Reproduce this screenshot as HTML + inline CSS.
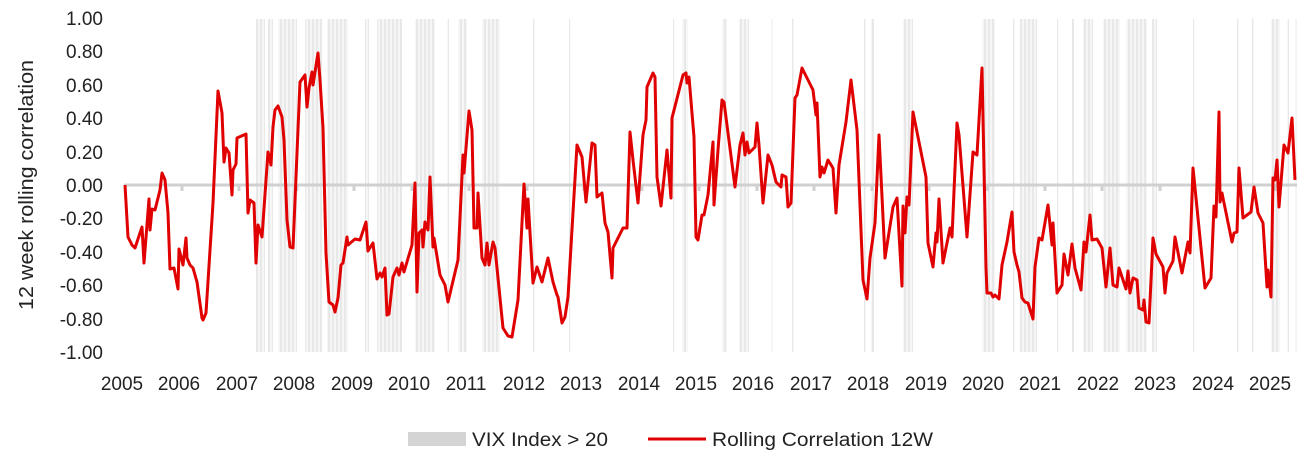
<!DOCTYPE html>
<html><head><meta charset="utf-8"><style>
body{margin:0;background:#fff;}
svg text{font-family:"Liberation Sans",sans-serif;fill:#222;}
</style></head><body>
<svg width="1316" height="465" viewBox="0 0 1316 465" xmlns="http://www.w3.org/2000/svg">
<defs><pattern id="st" width="4" height="10" patternUnits="userSpaceOnUse"><rect x="0" y="0" width="2" height="10" fill="#e8e8e8"/><rect x="2" y="0" width="2" height="10" fill="#f6f6f6"/></pattern></defs>
<g fill="url(#st)">
<rect x="256" y="19" width="9" height="333"/><rect x="268" y="19" width="5" height="333"/>
<rect x="278" y="19" width="19" height="333"/><rect x="305" y="19" width="17" height="333"/>
<rect x="327" y="19" width="21" height="333"/><rect x="365" y="19" width="4" height="333"/>
<rect x="377" y="19" width="25" height="333"/><rect x="415" y="19" width="20" height="333"/>
<rect x="447" y="19" width="2" height="333"/><rect x="458" y="19" width="9" height="333"/>
<rect x="482" y="19" width="18" height="333"/><rect x="533" y="19" width="2" height="333"/>
<rect x="569" y="19" width="1.5" height="333"/><rect x="673" y="19" width="1.5" height="333"/>
<rect x="682" y="19" width="6" height="333"/><rect x="722" y="19" width="5" height="333"/>
<rect x="739" y="19" width="10" height="333"/><rect x="771" y="19" width="1.5" height="333"/>
<rect x="792" y="19" width="1.5" height="333"/><rect x="864" y="19" width="1.5" height="333"/>
<rect x="871" y="19" width="3" height="333"/><rect x="903" y="19" width="10" height="333"/>
<rect x="982" y="19" width="13" height="333"/><rect x="1013" y="19" width="2" height="333"/>
<rect x="1020" y="19" width="17" height="333"/><rect x="1057" y="19" width="1.5" height="333"/>
<rect x="1072" y="19" width="2" height="333"/><rect x="1083" y="19" width="10" height="333"/>
<rect x="1103" y="19" width="17" height="333"/><rect x="1126" y="19" width="21" height="333"/>
<rect x="1152" y="19" width="5" height="333"/><rect x="1193" y="19" width="1.5" height="333"/>
<rect x="1237" y="19" width="2" height="333"/><rect x="1252" y="19" width="1.5" height="333"/>
<rect x="1271" y="19" width="9" height="333"/><rect x="1287" y="19" width="2" height="333"/>
<rect x="1295" y="19" width="1.5" height="333"/>
</g>
<line x1="124" y1="185" x2="1297" y2="185" stroke="#d0d0d0" stroke-width="3"/>
<g stroke="#d0d0d0" stroke-width="3">
<line x1="182" y1="185" x2="182" y2="191"/><line x1="239" y1="185" x2="239" y2="191"/><line x1="297" y1="185" x2="297" y2="191"/><line x1="354" y1="185" x2="354" y2="191"/><line x1="412" y1="185" x2="412" y2="191"/><line x1="469" y1="185" x2="469" y2="191"/><line x1="527" y1="185" x2="527" y2="191"/><line x1="584" y1="185" x2="584" y2="191"/><line x1="642" y1="185" x2="642" y2="191"/><line x1="699" y1="185" x2="699" y2="191"/><line x1="757" y1="185" x2="757" y2="191"/><line x1="814" y1="185" x2="814" y2="191"/><line x1="872" y1="185" x2="872" y2="191"/><line x1="929" y1="185" x2="929" y2="191"/><line x1="987" y1="185" x2="987" y2="191"/><line x1="1045" y1="185" x2="1045" y2="191"/><line x1="1102" y1="185" x2="1102" y2="191"/><line x1="1160" y1="185" x2="1160" y2="191"/><line x1="1217" y1="185" x2="1217" y2="191"/><line x1="1275" y1="185" x2="1275" y2="191"/>
</g>
<polyline fill="none" stroke="#e00000" stroke-width="3" stroke-linejoin="round" points="125,185 128,237 132,245 135,248 142,227 144,263 149,199 150,230 152,209 155,210 160,190 162,173 165,180 168,213 170,269 174,268 178,289 179,249 183,265 186,238 187,258 190,265 193,268 197,282 202,318 203,320 206,313 213,203 218,91 222,113 224,162 226,148 229,153 232,195 233,170 236,164 237,138 246,134 248,213 250,200 254,203 256,263 258,225 262,237 268,152 271,165 273,127 275,110 278,106 282,117 284,140 287,220 290,247 293,248 300,82 305,75 307,107 309,88 312,72 313,85 318,53 320,80 323,128 326,253 329,302 333,305 335,312 338,298 341,265 343,263 347,237 348,245 355,239 360,240 366,222 368,251 373,243 377,279 380,273 382,277 385,268 387,315 389,314 393,277 397,268 399,275 402,263 404,272 412,245 415,183 417,292 419,233 422,230 423,247 425,222 428,230 430,177 433,247 434,238 440,275 445,285 448,302 458,260 463,155 464,173 469,111 472,130 474,228 477,228 478,193 482,258 485,265 487,243 489,265 493,242 495,248 503,328 508,336 512,337 518,300 524,184 527,228 528,199 533,283 537,267 542,282 548,258 553,282 557,295 558,297 562,323 565,317 568,297 577,145 582,157 586,202 592,143 595,145 597,197 602,193 605,223 608,232 612,278 613,248 623,228 627,228 630,132 633,160 638,203 643,135 646,120 647,87 653,73 655,77 657,177 661,206 667,150 671,198 672,118 683,75 686,73 687,83 689,77 694,137 696,237 698,240 702,215 704,215 708,195 713,142 714,205 718,150 722,100 724,102 735,187 740,145 743,133 745,155 747,142 749,153 755,147 757,123 759,145 763,203 768,155 772,165 776,182 781,187 782,175 786,177 788,207 791,203 795,98 797,95 802,68 809,82 813,90 816,115 817,103 820,177 822,167 824,173 828,160 833,168 836,213 839,165 846,122 851,80 857,130 863,280 867,299 870,258 875,223 879,135 885,258 893,207 897,198 902,286 903,206 905,233 907,197 909,205 913,112 926,177 928,243 933,267 936,233 937,242 939,199 943,263 950,228 952,237 957,123 959,135 967,237 973,152 977,155 982,68 986,267 987,293 991,293 993,297 995,295 999,299 1002,265 1007,242 1012,212 1014,252 1017,265 1019,272 1022,298 1025,302 1028,303 1033,319 1035,267 1039,238 1042,240 1048,205 1052,245 1053,223 1057,293 1062,285 1064,254 1068,275 1072,244 1075,268 1081,290 1084,242 1086,252 1090,215 1092,240 1097,239 1102,248 1106,287 1110,248 1113,285 1117,287 1119,268 1126,289 1128,271 1130,293 1133,278 1137,280 1139,308 1143,310 1144,300 1146,322 1149,323 1153,238 1156,254 1163,267 1165,293 1167,273 1173,261 1175,237 1182,273 1188,242 1190,253 1193,168 1205,288 1211,278 1214,206 1216,217 1219,112 1220,202 1222,193 1232,242 1234,233 1237,232 1239,168 1243,218 1251,212 1254,187 1258,213 1263,223 1267,287 1268,270 1271,297 1273,178 1275,180 1277,160 1279,207 1284,145 1288,153 1292,118 1295,180"/>
<g font-size="19" text-anchor="end">
<text x="103" y="25">1.00</text><text x="103" y="58">0.80</text><text x="103" y="92">0.60</text><text x="103" y="125">0.40</text><text x="103" y="159">0.20</text><text x="103" y="192">0.00</text><text x="103" y="225">-0.20</text><text x="103" y="259">-0.40</text><text x="103" y="292">-0.60</text><text x="103" y="326">-0.80</text><text x="103" y="359">-1.00</text>
</g>
<text x="26" y="185" font-size="20" text-anchor="middle" transform="rotate(-90 26 185)" dy="7" textLength="250" lengthAdjust="spacingAndGlyphs">12 week rolling correlation</text>
<g font-size="19" text-anchor="middle">
<text x="122" y="390">2005</text><text x="179" y="390">2006</text><text x="237" y="390">2007</text><text x="294" y="390">2008</text><text x="352" y="390">2009</text><text x="409" y="390">2010</text><text x="466" y="390">2011</text><text x="524" y="390">2012</text><text x="581" y="390">2013</text><text x="639" y="390">2014</text><text x="696" y="390">2015</text><text x="753" y="390">2016</text><text x="811" y="390">2017</text><text x="868" y="390">2018</text><text x="926" y="390">2019</text><text x="983" y="390">2020</text><text x="1040" y="390">2021</text><text x="1098" y="390">2022</text><text x="1155" y="390">2023</text><text x="1213" y="390">2024</text><text x="1270" y="390">2025</text>
</g>
<rect x="408" y="432" width="58" height="14" fill="#d4d4d4"/>
<text x="472" y="446" font-size="19" textLength="136" lengthAdjust="spacingAndGlyphs">VIX Index &gt; 20</text>
<line x1="648" y1="439" x2="706" y2="439" stroke="#e00000" stroke-width="3"/>
<text x="712" y="446" font-size="19" textLength="221" lengthAdjust="spacingAndGlyphs">Rolling Correlation 12W</text>
</svg>
</body></html>
